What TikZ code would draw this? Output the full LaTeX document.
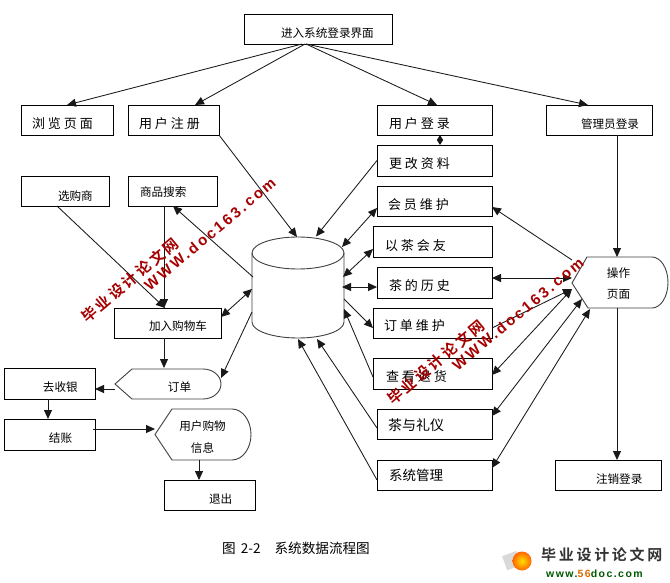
\documentclass[tikz,border=0pt]{standalone}
\usepackage{fontspec}
\setmainfont{Noto Sans CJK SC}
\newfontfamily\widefont[LetterSpace=23]{Noto Sans CJK SC}
\newfontfamily\markcjk[LetterSpace=18,BoldFont={Noto Sans CJK SC Bold}]{Noto Sans CJK SC Bold}
\newfontfamily\marklat[LetterSpace=17]{Liberation Sans Bold}
\newfontfamily\logolat[LetterSpace=14]{Liberation Sans Bold}
\usetikzlibrary{arrows.meta}
\newcommand\lblbig{\fontsize{13}{13}\selectfont\widefont}
\newcommand\lblsm{\fontsize{11.6}{12}\selectfont}
\newcommand\lblmid{\fontsize{14}{14}\selectfont}
\newcommand\lblsys{\fontsize{13.5}{14}\selectfont}
\newcommand\bxnode[8]{%
  \pgfmathsetmacro\bxw{#4-#2}\pgfmathsetmacro\bxh{#5-#3}%
  \pgfmathsetmacro\bxcx{(#2+#4)/2}\pgfmathsetmacro\bxcy{(#3+#5)/2}%
  \pgfmathsetmacro\bxpad{#6-#2}\pgfmathsetmacro\bxrz{\bxcy-#7-4.5}%
  \node[boxed,text width=\bxw pt,minimum height=\bxh pt] (#1) at (\bxcx,\bxcy)
    {\hspace*{\bxpad pt}\smash{\raisebox{\bxrz pt}{#8}}};}
\tikzset{
  boxed/.style={draw=black,line width=.9pt,inner sep=0pt,outer sep=0pt,fill=white,align=left},
  ghost/.style={inner sep=0pt,outer sep=0pt},
  flow/.style={draw=black!90,line width=.85pt},
  conn/.style={flow,-{Triangle[length=9pt,width=8pt]}},
  both/.style={flow,{Triangle[length=9pt,width=8pt]}-{Triangle[length=9pt,width=8pt]}},
  pent/.style={draw=black!75,line width=.9pt},
  wm/.style={text=red!65!black,rotate=40,inner sep=0pt},
}
\begin{document}
\begin{tikzpicture}[x=1pt,y=-1pt]
\useasboundingbox (0,0) rectangle (670,583);
\fill[white] (0,0) rectangle (670,583);
% boxes
\bxnode{top}{244}{14}{392}{44}{281}{33}{\lblsm 进入系统登录界面}
\bxnode{brw}{21}{105}{113}{135}{32}{124}{\lblbig 浏览页面}
\bxnode{reg}{128}{105}{219}{135}{139}{124}{\lblbig 用户注册}
\bxnode{ulog}{377}{105}{492}{135}{389}{124}{\lblbig 用户登录}
\bxnode{alog}{546}{105}{652}{135}{581}{124}{\lblsm 管理员登录}
\bxnode{chg}{377}{145}{492}{176}{389}{164}{\lblbig 更改资料}
\bxnode{mem}{377}{186}{492}{216}{388}{205}{\lblbig 会员维护}
\bxnode{tea}{373}{226}{492}{257}{385}{246}{\lblbig 以茶会友}
\bxnode{hist}{377}{267}{492}{298}{389}{286}{\lblbig 茶的历史}
\bxnode{ord}{373}{308}{492}{338}{384}{326}{\lblbig 订单维护}
\bxnode{ret}{373}{358}{492}{389}{386}{377}{\lblbig 查看退货}
\bxnode{rit}{377}{409}{492}{439}{388}{426}{\lblmid 茶与礼仪}
\bxnode{sys}{377}{460}{492}{490}{389}{476}{\lblsys 系统管理}
\bxnode{logout}{555}{460}{661}{490}{596}{479}{\lblsm 注销登录}
\bxnode{sel}{21}{176}{109}{206}{58}{196}{\lblsm 选购商}
\bxnode{srch}{128}{176}{217}{206}{140}{192}{\lblsm 商品搜索}
\bxnode{cart}{114}{308}{221}{338}{149}{326}{\lblsm 加入购物车}
\bxnode{pay}{4}{368}{95}{399}{43}{387}{\lblsm 去收银}
\bxnode{che}{4}{419}{95}{450}{49}{438}{\lblsm 结账}
\bxnode{quit}{164}{480}{255}{510}{209}{499}{\lblsm 退出}
% display-shaped nodes
\node[ghost,minimum width=106pt,minimum height=31pt] (ordr) at (168,383.5) {};
\draw[pent] (115,384) -- (132,369) -- (203,369) arc[start angle=90,end angle=-90,x radius=18pt,y radius=15pt] -- (132,399) -- cycle;
\node[font=\lblsm] at (179.5,387) {订单};
\node[ghost,minimum width=96pt,minimum height=51pt] (info) at (203,434.5) {};
\draw[pent] (155,434.5) -- (172,409) -- (232,409) arc[start angle=90,end angle=-90,x radius=19pt,y radius=25.5pt] -- (172,460) -- cycle;
\node[font=\lblsm] at (202.5,426) {用户购物};
\node[font=\lblsm] at (202.5,448) {信息};
\node[ghost,minimum width=96pt,minimum height=51pt] (op) at (620,282.5) {};
\draw[pent] (572,283) -- (587,257) -- (652,257) arc[start angle=90,end angle=-90,x radius=16pt,y radius=25.5pt] -- (588,308) -- cycle;
\node[font=\lblsm] at (618.5,273) {操作};
\node[font=\lblsm] at (618.5,294) {页面};
% database
\node[ghost,minimum width=92pt,minimum height=101pt] (db) at (298,287.5) {};
\draw[pent] (db.center) ++(0,-34.5) ellipse [x radius=46pt,y radius=16pt];
\draw[pent] ([shift={(0,16)}]db.north west) -- ([shift={(0,-16)}]db.south west)
  arc[start angle=180,end angle=360,x radius=46pt,y radius=16pt] -- ([shift={(0,16)}]db.north east);
\coordinate (dA) at ([shift={(-1,-50.5)}]db.center);
\coordinate (dB) at ([shift={(18,-51)}]db.center);
\coordinate (dC) at ([shift={(44,-40.5)}]db.center);
\coordinate (dD) at ([shift={(45,-10.5)}]db.center);
\coordinate (dE) at ([shift={(44,-.5)}]db.center);
\coordinate (dF) at ([shift={(46,11.5)}]db.center);
\coordinate (dG) at ([shift={(46,21.5)}]db.center);
\coordinate (dH) at ([shift={(19,51.5)}]db.center);
\coordinate (dI) at ([shift={(0,51.5)}]db.center);
\coordinate (dJ) at ([shift={(-45,-10.5)}]db.center);
\coordinate (dK) at ([shift={(-46,1.5)}]db.center);
\coordinate (dL) at ([shift={(-46,24.5)}]db.center);
\coordinate (oA) at ([shift={(-48,-22.5)}]op.center);
\coordinate (oB) at ([shift={(-48,-4.5)}]op.center);
\coordinate (oC) at ([shift={(-48,6.5)}]op.center);
\coordinate (oD) at ([shift={(-38,16.5)}]op.center);
\coordinate (oE) at ([shift={(-30,26.5)}]op.center);
% connectors
\draw[conn] ([shift={(-16,0)}]top.south) -- (brw.north);
\draw[conn] ([shift={(-13,0)}]top.south) -- ([shift={(21.5,0)}]reg.north);
\draw[conn] ([shift={(-12,0)}]top.south) -- ([shift={(2.5,0)}]ulog.north);
\draw[conn] ([shift={(-12,0)}]top.south) -- ([shift={(-11,0)}]alog.north);
\draw[conn] (reg.south east) -- (dA);
\draw[conn] (chg.west) -- (dB);
\draw[{Triangle[length=5pt,width=6pt]}-{Triangle[length=5pt,width=6pt]},flow] ([shift={(5.5,0)}]ulog.south) -- ([shift={(5.5,0)}]chg.north);
\draw[both] ([shift={(0,7)}]mem.west) -- (dC);
\draw[both] ([shift={(0,7.5)}]tea.west) -- (dD);
\draw[both] ([shift={(0,4.5)}]hist.west) -- (dE);
\draw[conn] (dF) -- ([shift={(0,5)}]ord.west);
\draw[conn] ([shift={(0,3.5)}]ret.west) -- (dG);
\draw[conn] ([shift={(0,4)}]rit.west) -- (dH);
\draw[conn] ([shift={(0,5)}]sys.west) -- (dI);
\draw[conn] (dJ) -- ([shift={(.5,0)}]srch.south);
\draw[both] ([shift={(0,-6)}]cart.east) -- (dK);
\draw[conn] (dL) -- ([shift={(0,-5.5)}]ordr.east);
\draw[conn] ([shift={(-8,0)}]sel.south) -- ([shift={(-2.5,0)}]cart.north);
\draw[conn] ([shift={(-8.5,0)}]srch.south) -- ([shift={(-3.5,0)}]cart.north);
\draw[conn] ([shift={(-3.5,0)}]cart.south) -- ([shift={(-4,0)}]ordr.north);
\draw[conn] ([shift={(0,5.5)}]ordr.west) -- ([shift={(0,5.5)}]pay.east);
\draw[conn] ([shift={(-1.5,0)}]pay.south) -- ([shift={(-1.5,0)}]che.north);
\draw[conn] ([shift={(-2,-5.5)}]che.east) -- ([shift={(0,-5.5)}]info.west);
\draw[conn] ([shift={(-4,0)}]info.south) -- ([shift={(-10.5,0)}]quit.north);
\draw[conn] ([shift={(18,0)}]alog.south) -- ([shift={(-3,0)}]op.north);
\draw[conn] ([shift={(-3,0)}]op.south) -- ([shift={(9,0)}]logout.north);
\draw[conn] (oA) -- ([shift={(0,6)}]mem.east);
\draw[both] (oB) -- ([shift={(0,-4.5)}]hist.east);
\draw[conn] ([shift={(0,5)}]ord.east) -- (oC);
\draw[both] ([shift={(0,1.5)}]ret.east) -- (oC);
\draw[both] ([shift={(0,-8)}]rit.east) -- (oD);
\draw[both] ([shift={(0,-7)}]sys.east) -- (oE);
% caption
\node[font=\fontsize{13.6}{14}\selectfont,anchor=west,inner sep=0pt] (cap) at (222,548) {图\hspace{5pt}2-2\hspace{14pt}系统数据流程图};
% watermarks
\node[wm,font=\fontsize{15}{15}\selectfont\markcjk] (wa) at (130,280) {毕业设计论文网};
\node[wm,font=\fontsize{15}{15}\selectfont\marklat] (wb) at (210,234) {WWW.doc163.com};
\node[wm,font=\fontsize{15}{15}\selectfont\markcjk] (wc) at (436,362) {毕业设计论文网};
\node[wm,font=\fontsize{15}{15}\selectfont\marklat] (wd) at (518,314) {WWW.doc163.com};
% logo
\fill[black!15,rotate around={20:(512,560)}] (504,553) rectangle (519,568);
\shade[inner color=yellow!75!orange,outer color=orange!80!red] (522,561) circle (9.5pt);
\node[font=\fontsize{15}{15}\selectfont\markcjk,text=black!80,anchor=west,inner sep=0pt] (la) at (541,555) {毕业设计论文网};
\node[font=\fontsize{10.5}{11}\selectfont\logolat,text=green!35!black,anchor=west,inner sep=0pt] (lb) at (546,573.5) {www.\textcolor{orange!85!black}{56}doc.com};
\end{tikzpicture}
\end{document}
